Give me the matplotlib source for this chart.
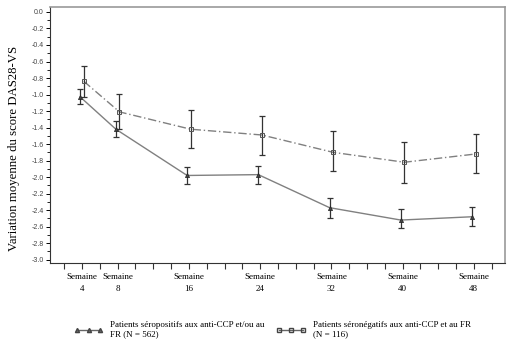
import matplotlib
matplotlib.use("Agg")
import matplotlib.pyplot as plt
from matplotlib.ticker import MultipleLocator, FixedLocator
from matplotlib.lines import Line2D

weeks = [4, 8, 16, 24, 32, 40, 48]
tick_weeks = list(range(2, 51, 2))
week_labels = ["Semaine\n4", "Semaine\n8", "Semaine\n16", "Semaine\n24",
               "Semaine\n32", "Semaine\n40", "Semaine\n48"]

# Seropositive group (anti-CCP and/or RF), N = 562
pos_mean = [-1.03, -1.42, -1.98, -1.97, -2.37, -2.52, -2.48]
pos_low = [-1.12, -1.51, -2.08, -2.08, -2.50, -2.62, -2.59]
pos_high = [-0.93, -1.32, -1.88, -1.86, -2.25, -2.39, -2.36]

# Seronegative group, N = 116
neg_mean = [-0.84, -1.21, -1.42, -1.49, -1.70, -1.82, -1.72]
neg_low = [-1.03, -1.42, -1.65, -1.73, -1.93, -2.07, -1.95]
neg_high = [-0.66, -0.99, -1.19, -1.26, -1.44, -1.58, -1.48]

pos_label = "Patients séropositifs aux anti-CCP et/ou au\nFR (N = 562)"
neg_label = "Patients séronégatifs aux anti-CCP et au FR\n(N = 116)"

serif = ["Liberation Serif", "DejaVu Serif"]
sans = ["Liberation Sans", "DejaVu Sans"]

fig = plt.figure(figsize=(5.15, 3.44), dpi=100)
ax = fig.add_axes([50 / 515, 1 - 263 / 344, 455 / 515, 256 / 344])

shift = 0.2
xp = [w - shift for w in weeks]
xn = [w + shift for w in weeks]

line_grey = "#808080"
bar_col = "#333333"

# seronegative (dash-dot)
ax.plot(xn, neg_mean, color=line_grey, lw=1.0, ls=(0, (6, 2, 1, 2)), zorder=2)
ax.errorbar(xn, neg_mean,
            yerr=[[m - l for m, l in zip(neg_mean, neg_low)],
                  [h - m for m, h in zip(neg_mean, neg_high)]],
            fmt="none", ecolor=bar_col, elinewidth=0.9, capsize=2.2,
            capthick=0.9, zorder=3)
ax.plot(xn, neg_mean, ls="none", marker="s", ms=3.2, mfc="none",
        mec="#555555", mew=0.7, zorder=4)

# seropositive (solid)
ax.plot(xp, pos_mean, color=line_grey, lw=1.0, zorder=2)
ax.errorbar(xp, pos_mean,
            yerr=[[m - l for m, l in zip(pos_mean, pos_low)],
                  [h - m for m, h in zip(pos_mean, pos_high)]],
            fmt="none", ecolor=bar_col, elinewidth=0.9, capsize=2.2,
            capthick=0.9, zorder=3)
ax.plot(xp, pos_mean, ls="none", marker="^", ms=3.0, mfc="#444444",
        mec="#222222", mew=0.5, zorder=4)

ax.set_xlim(0.4, 51.5)
ax.set_ylim(-3.04, 0.06)

ax.xaxis.set_major_locator(FixedLocator(tick_weeks))
lab_map = dict(zip(weeks, week_labels))
ax.set_xticklabels([lab_map.get(w, "") for w in tick_weeks],
                   family=serif, fontsize=6.5, linespacing=1.6)
ax.tick_params(axis="x", direction="out", length=4, width=0.8,
               color="#333333", pad=3.5)

ax.set_yticks([round(-0.2 * i, 1) for i in range(16)])
ax.yaxis.set_minor_locator(MultipleLocator(0.1))
ax.set_yticklabels([f"{-0.2 * i:.1f}" if i else "0.0" for i in range(16)],
                   family=sans, fontsize=5, color="#444444")
ax.tick_params(axis="y", which="major", direction="out", length=3,
               width=0.7, pad=1.5)
ax.tick_params(axis="y", which="minor", direction="out", length=2, width=0.6)

for side in ["top", "right"]:
    ax.spines[side].set_color("#999999")
    ax.spines[side].set_linewidth(1.2)
for side in ["left", "bottom"]:
    ax.spines[side].set_color("#333333")
    ax.spines[side].set_linewidth(0.8)

fig.text(14 / 515, 1 - 148 / 344, "Variation moyenne du score DAS28-VS",
         rotation=90, ha="center", va="center", family=serif, fontsize=9.2)

h_pos = Line2D([], [], color="#666666", lw=1.0, marker="^", ms=3,
               mfc="#666666", mec="#444444")
h_neg = Line2D([], [], color="#666666", lw=1.0, marker="s", ms=3,
               mfc="none", mec="#444444")
fig.legend([h_pos, h_neg], [pos_label, neg_label], ncol=2, frameon=False,
           loc="upper left", bbox_to_anchor=(66 / 515, 1 - 313 / 344),
           numpoints=3, handlelength=3.2, handletextpad=0.8,
           columnspacing=1.3, prop={"family": serif, "size": 6.5})

fig.savefig("out.png", dpi=100)
